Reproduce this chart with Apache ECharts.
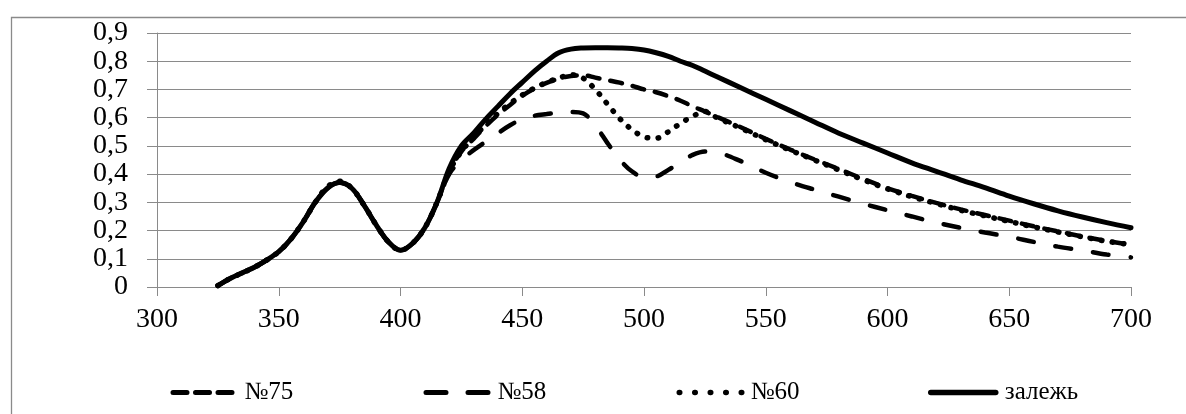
<!DOCTYPE html>
<html>
<head>
<meta charset="utf-8">
<script src="https://cdn.jsdelivr.net/npm/echarts@6/dist/echarts.min.js"></script>
<style>
html,body{margin:0;padding:0;background:#fff;}
#chart{width:1186px;height:414px;}
</style>
</head>
<body>
<div id="chart"></div>
<script>
// wavelengths (nm)
var wavelengths = [325,330,335,340,345,350,355,360,365,370,375,380,385,390,395,400,405,410,415,
  420,425,430,435,440,445,450,455,460,465,470,475,480,485,490,495,500,505,510,515,520,525,530,
  540,550,560,570,580,590,600,610,620,630,640,650,660,670,680,690,700];

var seriesNames = ['№75', '№58', '№60', 'залежь'];

var s75 = [0.005,0.03,0.05,0.07,0.095,0.125,0.17,0.23,0.30,0.35,0.37,0.35,0.29,0.22,0.16,0.13,0.155,0.21,0.30,
  0.41,0.48,0.525,0.57,0.61,0.645,0.678,0.703,0.723,0.738,0.748,0.75,0.742,0.733,0.724,0.713,0.70,0.69,0.676,0.66,0.64,0.622,0.603,
  0.565,0.525,0.487,0.452,0.418,0.383,0.35,0.323,0.298,0.275,0.255,0.235,0.215,0.197,0.179,0.163,0.15];

var s58 = [0.005,0.03,0.05,0.07,0.095,0.125,0.17,0.23,0.30,0.35,0.37,0.35,0.29,0.22,0.16,0.13,0.155,0.21,0.30,
  0.40,0.45,0.485,0.515,0.545,0.573,0.595,0.607,0.613,0.618,0.62,0.615,0.572,0.51,0.452,0.41,0.39,0.392,0.415,0.442,0.468,0.48,0.477,
  0.445,0.405,0.372,0.345,0.32,0.295,0.272,0.25,0.228,0.21,0.193,0.178,0.16,0.143,0.13,0.115,0.105];

var s60 = [0.005,0.03,0.05,0.07,0.095,0.125,0.17,0.23,0.30,0.355,0.375,0.35,0.29,0.22,0.16,0.13,0.155,0.21,0.30,
  0.41,0.48,0.53,0.575,0.615,0.65,0.68,0.705,0.725,0.74,0.752,0.74,0.70,0.648,0.597,0.558,0.532,0.527,0.55,0.58,0.605,0.622,0.60,
  0.562,0.522,0.485,0.45,0.415,0.38,0.348,0.32,0.296,0.272,0.252,0.232,0.213,0.195,0.178,0.162,0.15];

var zalezh = [0.005,0.03,0.05,0.07,0.095,0.125,0.17,0.23,0.30,0.35,0.37,0.35,0.29,0.22,0.16,0.13,0.155,0.21,0.30,
  0.42,0.50,0.545,0.595,0.64,0.685,0.725,0.765,0.80,0.83,0.843,0.847,0.848,0.848,0.847,0.845,0.84,0.83,0.817,0.80,0.785,0.765,0.745,
  0.705,0.665,0.625,0.585,0.545,0.51,0.475,0.44,0.41,0.38,0.352,0.322,0.295,0.27,0.248,0.228,0.21];

var xTicks = [300,350,400,450,500,550,600,650,700];
var yTicks = [0,0.1,0.2,0.3,0.4,0.5,0.6,0.7,0.8,0.9];

function pairs(vals){ return wavelengths.map(function(w,i){ return [w, vals[i]]; }); }

var FONT = "'Liberation Serif', 'Times New Roman', serif";
var GRAY = '#8a8a8a';

var lineStyles = [
  {color:'#000', width:4.5, type:[12,11], cap:'round'},
  {color:'#000', width:4.5, type:[16,22], cap:'round'},
  {color:'#000', width:5.5, type:[0.5,10.5], cap:'round'},
  {color:'#000', width:5, type:'solid', cap:'round'}
];
var legendLineStyles = [
  {color:'#000', width:5, type:[14,8.5], cap:'round', dashOffset:-2.5},
  {color:'#000', width:5, type:[20,22], cap:'round', dashOffset:-2.5},
  {color:'#000', width:5.5, type:[0.5,15], cap:'round', dashOffset:-2.5},
  {color:'#000', width:5.5, type:'solid', cap:'round'}
];
var dataArrays = [s75, s58, s60, zalezh];

var legendLefts = [163, 416, 669, 923];

var chart = echarts.init(document.getElementById('chart'), null, {renderer:'canvas'});
chart.setOption({
  animation: false,
  backgroundColor: '#fff',
  graphic: [{
    type:'rect', left: 9, top: 15, silent: true,
    shape:{x:0, y:0, width:1300, height:500},
    style:{fill:'none', stroke:GRAY, lineWidth:1.3}
  }],
  grid: {left:157, right:55, top:33, bottom:127, containLabel:false},
  legend: seriesNames.map(function(n,i){
    return {
      data:[n], left: legendLefts[i], top: 375,
      itemWidth: 65, itemHeight: 14, itemGap: 6,
      itemStyle:{opacity:0, color:'rgba(0,0,0,0)', borderWidth:0},
      lineStyle: legendLineStyles[i],
      textStyle:{fontFamily:FONT, fontSize:25, color:'#000', padding:[0,0,0,4]}
    };
  }),
  xAxis: {
    type:'value', min:300, max:700, interval:50,
    axisLine:{show:true, lineStyle:{color:GRAY, width:1}},
    axisTick:{show:true, length:9, lineStyle:{color:GRAY, width:1}},
    splitLine:{show:false},
    axisLabel:{fontFamily:FONT, fontSize:28, color:'#000', margin:19,
      formatter:function(v){ return xTicks.indexOf(v) >= 0 ? String(v) : ''; }}
  },
  yAxis: {
    type:'value', min:0, max:0.9, interval:0.1,
    axisLine:{show:true, lineStyle:{color:GRAY, width:1}},
    axisTick:{show:true, length:10, lineStyle:{color:GRAY, width:1}},
    splitLine:{show:true, lineStyle:{color:GRAY, width:1}},
    axisLabel:{fontFamily:FONT, fontSize:28, color:'#000', margin:29,
      formatter:function(v){
        var t = yTicks.reduce(function(a,b){ return Math.abs(b-v) < Math.abs(a-v) ? b : a; });
        return t === 0 ? '0' : t.toFixed(1).replace('.', ',');
      }}
  },
  series: seriesNames.map(function(n,i){
    return {
      name:n, type:'line', data: pairs(dataArrays[i]),
      symbol:'none', smooth:0.35,
      lineStyle: lineStyles[i], itemStyle:{color:'#000'},
      z: 2 + i
    };
  })
});
</script>
</body>
</html>
